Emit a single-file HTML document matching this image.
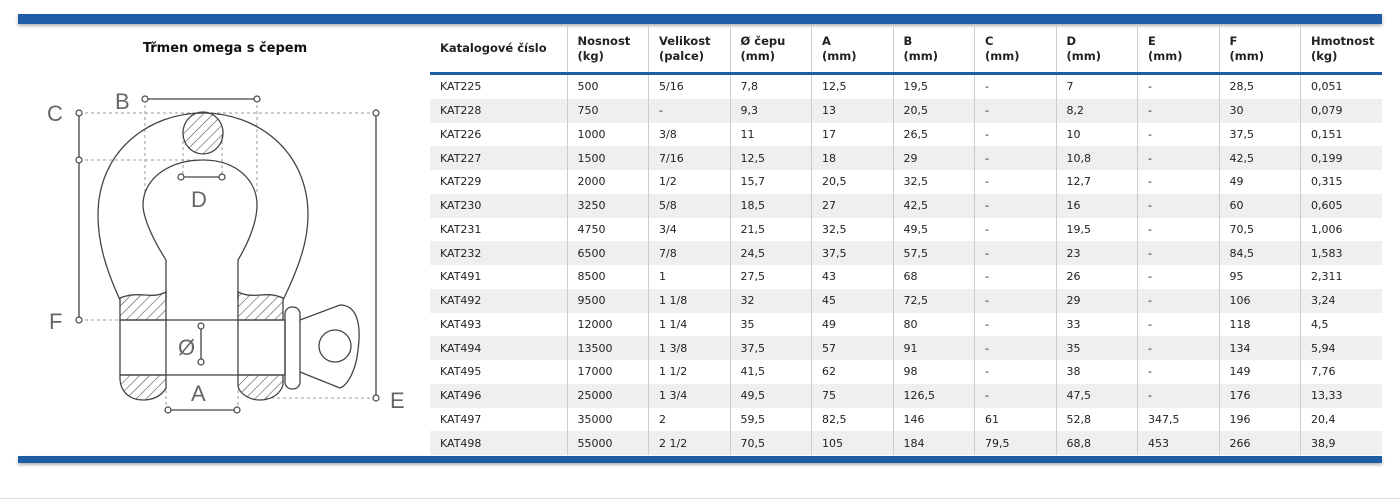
<!DOCTYPE html>
<html><head><meta charset="utf-8"><style>
body{margin:0;width:1400px;height:500px;background:#fff;position:relative;overflow:hidden;font-family:"DejaVu Sans","Liberation Sans",sans-serif;}
.bar{position:absolute;left:18px;width:1364px;background:#1e5da6;box-shadow:0 2px 3px rgba(0,0,0,.3);}
.title{position:absolute;left:10px;width:430px;top:41px;text-align:center;font-weight:bold;font-size:13px;color:#111;}
table{position:absolute;left:430px;top:25px;width:952px;border-collapse:collapse;font-size:11px;color:#222;table-layout:fixed;}
th{font-weight:bold;font-size:11.5px;text-align:left;vertical-align:middle;height:47px;padding:0 0 0 10px;border-left:1px solid #ccc;border-bottom:3px solid #1e5da6;line-height:15px;}
td{height:23.75px;padding:0 0 0 10px;border-left:1px solid #ccc;}
th:first-child,td:first-child{border-left:none;}
tr:nth-child(odd) td{background:#efefef;}
.foot{position:absolute;left:0;top:498px;width:1400px;height:1px;background:#ddd;}
</style></head><body>
<div class="bar" style="top:14px;height:10px"></div>
<div class="bar" style="top:456px;height:7px"></div>
<div class="title">Třmen omega s čepem</div>
<svg width="430" height="460" style="position:absolute;left:0;top:0" font-family="Liberation Sans Narrow,Liberation Sans,sans-serif">
<defs><pattern id="h" width="7" height="7" patternUnits="userSpaceOnUse" patternTransform="rotate(45)"><line x1="0" y1="0" x2="0" y2="7" stroke="#555" stroke-width="1.2"/></pattern></defs>
<g stroke="#999" stroke-dasharray="3,3" fill="none" stroke-width="1">
<line x1="79" y1="113" x2="376" y2="113"/><line x1="79" y1="160" x2="200" y2="160"/><line x1="79" y1="320" x2="125" y2="320"/>
<line x1="145" y1="99" x2="145" y2="195"/><line x1="257" y1="99" x2="257" y2="195"/>
<line x1="183" y1="135" x2="183" y2="176"/><line x1="222" y1="135" x2="222" y2="176"/>
<line x1="166" y1="378" x2="166" y2="410"/><line x1="238" y1="378" x2="238" y2="410"/>
<line x1="265" y1="398" x2="376" y2="398"/></g>
<g stroke="#444" fill="none" stroke-width="1.3">
<path d="M120,300 C104,265 98,240 98,215 C98,150 150,113 203,113 C256,113 308,150 308,215 C308,240 300,265 283,300"/>
<path d="M166,300 L166,260 C150,235 143,215 143,205 C143,178 170,160 203,160 C236,160 257,180 257,205 C257,220 250,240 238,260 L238,300"/>
<path d="M120,298 C140,290 150,300 166,292 L166,320 L120,320 Z" fill="url(#h)"/>
<path d="M238,292 C255,300 265,290 283,298 L283,320 L238,320 Z" fill="url(#h)"/>
<path d="M120,375 L166,375 L166,388 C160,398 150,400 143,400 C128,400 120,390 120,378 Z" fill="url(#h)"/>
<path d="M238,375 L283,375 L283,385 C280,395 270,400 260,400 C248,400 238,392 238,385 Z" fill="url(#h)"/>
<rect x="120" y="320" width="165" height="55"/>
<line x1="166" y1="320" x2="166" y2="375"/><line x1="238" y1="320" x2="238" y2="375"/>
<rect x="285" y="307" width="15" height="82" rx="7"/>
<path d="M300,320 L340,305 C355,305 362,320 358,350 C356,370 348,385 340,388 L300,372"/>
<circle cx="335" cy="346" r="16"/>
<ellipse cx="203" cy="133" rx="20" ry="21" fill="url(#h)"/>
<line x1="145" y1="99" x2="257" y2="99"/><line x1="79" y1="113" x2="79" y2="320"/><line x1="376" y1="113" x2="376" y2="398"/>
<line x1="183" y1="177" x2="222" y2="177"/><line x1="201" y1="328" x2="201" y2="362"/><line x1="168" y1="410" x2="237" y2="410"/>
</g>
<g fill="#fff" stroke="#444" stroke-width="1.2">
<circle cx="145" cy="99" r="3"/><circle cx="257" cy="99" r="3"/><circle cx="79" cy="113" r="3"/><circle cx="79" cy="160" r="3"/><circle cx="79" cy="320" r="3"/>
<circle cx="376" cy="113" r="3"/><circle cx="376" cy="398" r="3"/><circle cx="181" cy="177" r="3"/><circle cx="222" cy="177" r="3"/>
<circle cx="201" cy="326" r="3"/><circle cx="201" cy="362" r="3"/><circle cx="168" cy="410" r="3"/><circle cx="237" cy="410" r="3"/></g>
<g fill="#666" font-size="22">
<text x="115" y="109">B</text><text x="47" y="121">C</text><text x="191" y="207">D</text><text x="49" y="329">F</text>
<text x="178" y="355">Ø</text><text x="191" y="401">A</text><text x="390" y="408">E</text></g>
</svg>
<table>
<colgroup><col style="width:137px"><col span="10" style="width:81.5px"></colgroup>
<tr><th>Katalogové číslo</th><th>Nosnost<br>(kg)</th><th>Velikost<br>(palce)</th><th>Ø čepu<br>(mm)</th><th>A<br>(mm)</th><th>B<br>(mm)</th><th>C<br>(mm)</th><th>D<br>(mm)</th><th>E<br>(mm)</th><th>F<br>(mm)</th><th>Hmotnost<br>(kg)</th></tr>
<tr><td>KAT225</td><td>500</td><td>5/16</td><td>7,8</td><td>12,5</td><td>19,5</td><td>-</td><td>7</td><td>-</td><td>28,5</td><td>0,051</td></tr>
<tr><td>KAT228</td><td>750</td><td>-</td><td>9,3</td><td>13</td><td>20,5</td><td>-</td><td>8,2</td><td>-</td><td>30</td><td>0,079</td></tr>
<tr><td>KAT226</td><td>1000</td><td>3/8</td><td>11</td><td>17</td><td>26,5</td><td>-</td><td>10</td><td>-</td><td>37,5</td><td>0,151</td></tr>
<tr><td>KAT227</td><td>1500</td><td>7/16</td><td>12,5</td><td>18</td><td>29</td><td>-</td><td>10,8</td><td>-</td><td>42,5</td><td>0,199</td></tr>
<tr><td>KAT229</td><td>2000</td><td>1/2</td><td>15,7</td><td>20,5</td><td>32,5</td><td>-</td><td>12,7</td><td>-</td><td>49</td><td>0,315</td></tr>
<tr><td>KAT230</td><td>3250</td><td>5/8</td><td>18,5</td><td>27</td><td>42,5</td><td>-</td><td>16</td><td>-</td><td>60</td><td>0,605</td></tr>
<tr><td>KAT231</td><td>4750</td><td>3/4</td><td>21,5</td><td>32,5</td><td>49,5</td><td>-</td><td>19,5</td><td>-</td><td>70,5</td><td>1,006</td></tr>
<tr><td>KAT232</td><td>6500</td><td>7/8</td><td>24,5</td><td>37,5</td><td>57,5</td><td>-</td><td>23</td><td>-</td><td>84,5</td><td>1,583</td></tr>
<tr><td>KAT491</td><td>8500</td><td>1</td><td>27,5</td><td>43</td><td>68</td><td>-</td><td>26</td><td>-</td><td>95</td><td>2,311</td></tr>
<tr><td>KAT492</td><td>9500</td><td>1 1/8</td><td>32</td><td>45</td><td>72,5</td><td>-</td><td>29</td><td>-</td><td>106</td><td>3,24</td></tr>
<tr><td>KAT493</td><td>12000</td><td>1 1/4</td><td>35</td><td>49</td><td>80</td><td>-</td><td>33</td><td>-</td><td>118</td><td>4,5</td></tr>
<tr><td>KAT494</td><td>13500</td><td>1 3/8</td><td>37,5</td><td>57</td><td>91</td><td>-</td><td>35</td><td>-</td><td>134</td><td>5,94</td></tr>
<tr><td>KAT495</td><td>17000</td><td>1 1/2</td><td>41,5</td><td>62</td><td>98</td><td>-</td><td>38</td><td>-</td><td>149</td><td>7,76</td></tr>
<tr><td>KAT496</td><td>25000</td><td>1 3/4</td><td>49,5</td><td>75</td><td>126,5</td><td>-</td><td>47,5</td><td>-</td><td>176</td><td>13,33</td></tr>
<tr><td>KAT497</td><td>35000</td><td>2</td><td>59,5</td><td>82,5</td><td>146</td><td>61</td><td>52,8</td><td>347,5</td><td>196</td><td>20,4</td></tr>
<tr><td>KAT498</td><td>55000</td><td>2 1/2</td><td>70,5</td><td>105</td><td>184</td><td>79,5</td><td>68,8</td><td>453</td><td>266</td><td>38,9</td></tr>
</table>
<div class="foot"></div>
</body></html>
